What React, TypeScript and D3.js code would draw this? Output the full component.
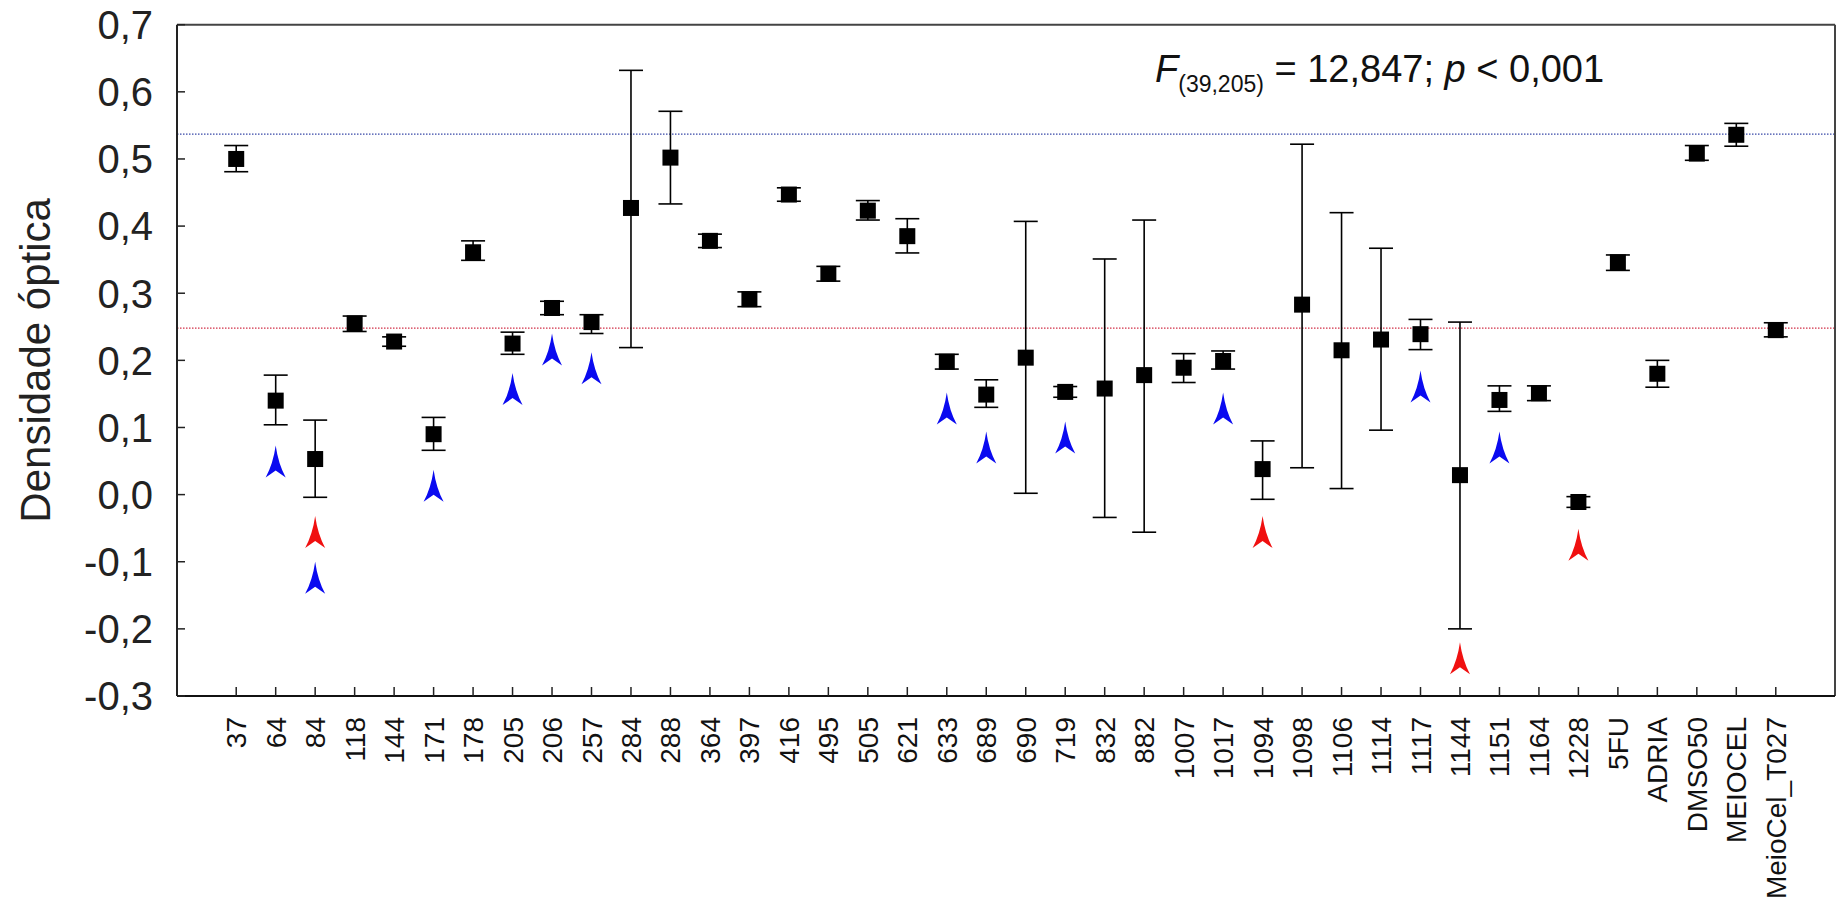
import React from 'react';
import * as d3 from 'd3';

const categories = [
  '37', '64', '84', '118', '144', '171', '178', '205', '206', '257',
  '284', '288', '364', '397', '416', '495', '505', '621', '633', '689',
  '690', '719', '832', '882', '1007', '1017', '1094', '1098', '1106', '1114',
  '1117', '1144', '1151', '1164', '1228', '5FU', 'ADRIA', 'DMSO50', 'MEIOCEL', 'MeioCel_T027',
];

const means = [
  0.5, 0.14, 0.053, 0.255, 0.228, 0.09, 0.361, 0.225, 0.278, 0.257,
  0.427, 0.502, 0.378, 0.291, 0.447, 0.329, 0.423, 0.385, 0.198, 0.149,
  0.204, 0.153, 0.158, 0.178, 0.189, 0.199, 0.038, 0.283, 0.215, 0.231,
  0.239, 0.029, 0.141, 0.151, -0.011, 0.346, 0.18, 0.508, 0.536, 0.245,
];

const lower = [
  0.481, 0.104, -0.004, 0.243, 0.221, 0.066, 0.349, 0.209, 0.268, 0.24,
  0.219, 0.433, 0.368, 0.28, 0.437, 0.318, 0.409, 0.36, 0.187, 0.13,
  0.002, 0.145, -0.034, -0.056, 0.167, 0.187, -0.007, 0.04, 0.009, 0.096,
  0.216, -0.2, 0.124, 0.14, -0.019, 0.334, 0.16, 0.498, 0.519, 0.235,
];

const upper = [
  0.52, 0.178, 0.111, 0.266, 0.235, 0.115, 0.378, 0.242, 0.288, 0.268,
  0.632, 0.571, 0.388, 0.302, 0.457, 0.34, 0.438, 0.411, 0.209, 0.171,
  0.407, 0.161, 0.351, 0.409, 0.21, 0.214, 0.08, 0.522, 0.42, 0.367,
  0.261, 0.257, 0.162, 0.162, -0.003, 0.357, 0.2, 0.52, 0.553, 0.256,
];

// arrowheads: category, colour, value at the tip
const arrowCats = ['64', '84', '84', '171', '205', '206', '257', '633', '689', '719', '1017', '1094', '1117', '1144', '1151', '1228'];
const arrowColors = ['blue', 'red', 'blue', 'blue', 'blue', 'blue', 'blue', 'blue', 'blue', 'blue', 'blue', 'red', 'blue', 'red', 'blue', 'red'];
const arrowTips = [0.073, -0.032, -0.1, 0.037, 0.181, 0.24, 0.212, 0.152, 0.094, 0.109, 0.152, -0.032, 0.185, -0.22, 0.094, -0.051];

const yTicks = [0.7, 0.6, 0.5, 0.4, 0.3, 0.2, 0.1, 0.0, -0.1, -0.2, -0.3];
const refLines = [0.537, 0.248];
const refColors = ['#3848a8', '#d23048'];

const font = '"Liberation Sans", Arial, sans-serif';
const W = 1838;
const H = 908;
const left = 177;
const right = 1835;
const top = 24.7;
const bottom = 696;

const locale = d3.formatLocale({ decimal: ',', thousands: '.', grouping: [3], currency: ['', ''], minus: '-' });
const fmt = locale.format('.1f');

const arrowPath = 'M0,0 Q2.5,18 10,32 L0,25 L-10,32 Q-2.5,18 0,0 Z';

export default function App() {
  const x = d3.scalePoint<string>().domain(categories).range([left, right]).padding(1.5);
  const y = d3.scaleLinear().domain([-0.3, 0.7]).range([bottom, top]);
  const cap = 12;
  const sq = 16;

  return (
    <svg width={W} height={H} style={{ position: 'absolute', left: 0, top: 0, background: '#fff' }} fontFamily={font}>
      <rect x={0} y={0} width={W} height={H} fill="#fff" />

      {/* reference lines */}
      {refLines.map((v, i) => (
        <line key={'r' + i} x1={left} x2={right} y1={y(v)} y2={y(v)} stroke={refColors[i]} strokeWidth={1.3} strokeDasharray="1.5,1.5" />
      ))}

      {/* frame */}
      <line x1={left} x2={right} y1={top} y2={top} stroke="#444" strokeWidth={2} />
      <line x1={right} x2={right} y1={top} y2={bottom} stroke="#444" strokeWidth={2} />
      <line x1={left} x2={left} y1={top} y2={bottom} stroke="#222" strokeWidth={2} />
      <line x1={left} x2={right} y1={bottom} y2={bottom} stroke="#111" strokeWidth={2} />

      {/* y axis */}
      {yTicks.map((t) => (
        <g key={'y' + t}>
          <line x1={left} x2={left + 8} y1={y(t)} y2={y(t)} stroke="#222" strokeWidth={1.5} />
          <text x={153} y={y(t)} dy="0.36em" textAnchor="end" fontSize={40} fill="#222">
            {fmt(t)}
          </text>
        </g>
      ))}
      <text transform={`translate(50,${(top + bottom) / 2}) rotate(-90)`} textAnchor="middle" fontSize={42} fill="#222">
        Densidade óptica
      </text>

      {/* x axis */}
      {categories.map((c) => (
        <g key={'x' + c}>
          <line x1={x(c)} x2={x(c)} y1={bottom} y2={bottom - 9} stroke="#222" strokeWidth={1.5} />
          <text transform={`translate(${x(c)! + 10},${bottom + 21}) rotate(-90)`} textAnchor="end" fontSize={28} fill="#111">
            {c}
          </text>
        </g>
      ))}

      {/* error bars and means */}
      {categories.map((c, i) => {
        const cx = x(c)!;
        return (
          <g key={'p' + c} stroke="#000" strokeWidth={1.6}>
            <line x1={cx} x2={cx} y1={y(upper[i])} y2={y(lower[i])} />
            <line x1={cx - cap} x2={cx + cap} y1={y(upper[i])} y2={y(upper[i])} />
            <line x1={cx - cap} x2={cx + cap} y1={y(lower[i])} y2={y(lower[i])} />
            <rect x={cx - sq / 2} y={y(means[i]) - sq / 2} width={sq} height={sq} fill="#000" stroke="none" />
          </g>
        );
      })}

      {/* arrowheads */}
      {arrowCats.map((c, i) => (
        <path
          key={'a' + i}
          d={arrowPath}
          transform={`translate(${x(c)},${y(arrowTips[i])})`}
          fill={arrowColors[i] === 'red' ? '#f01010' : '#0a0af0'}
        />
      ))}

      {/* statistic */}
      <text x={1155} y={81.7} fontSize={38} fill="#111">
        <tspan fontStyle="italic">F</tspan>
        <tspan fontSize={23} dy={10}>(39,205)</tspan>
        <tspan dy={-10}> = 12,847; </tspan>
        <tspan fontStyle="italic">p</tspan>
        <tspan> &lt; 0,001</tspan>
      </text>
    </svg>
  );
}
